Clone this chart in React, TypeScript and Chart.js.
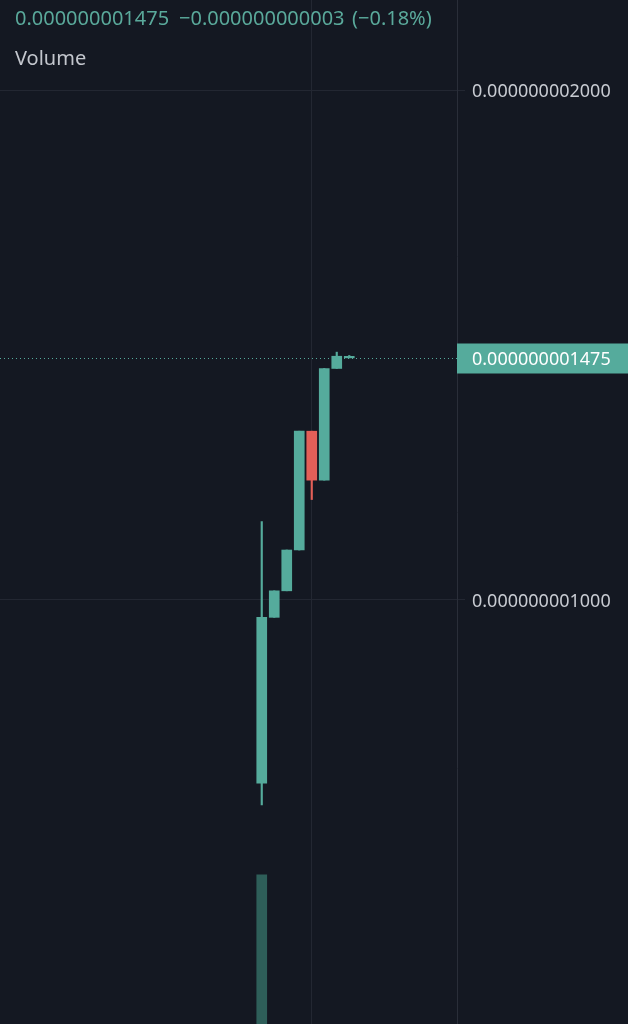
import React, { useEffect, useRef } from "react";
import { Chart, registerables } from "chart.js";

Chart.register(...registerables);

// candle index positions
const candleIndex = [0, 1, 2, 3, 4, 5, 6, 7];
const opens = [0.641e-9, 0.966e-9, 1.018e-9, 1.098e-9, 1.331e-9, 1.235e-9, 1.454e-9, 1.4748e-9];
const closes = [0.966e-9, 1.018e-9, 1.098e-9, 1.331e-9, 1.235e-9, 1.454e-9, 1.478e-9, 1.475e-9];
const highs = [1.154e-9, 1.018e-9, 1.098e-9, 1.331e-9, 1.331e-9, 1.454e-9, 1.486e-9, 1.4795e-9];
const lows = [0.598e-9, 0.966e-9, 1.018e-9, 1.098e-9, 1.197e-9, 1.235e-9, 1.454e-9, 1.4748e-9];
const volumes = [100, 0, 0, 0, 0, 0, 0, 0];
const priceTicks = [1e-9, 2e-9];
const lastPrice = 1.475e-9;
const headerPrice = "0.000000001475";
const headerChange = "\u22120.000000000003";
const headerPct = "(\u22120.18%)";

const BG = "#141822";
const UP = "#55ab9c";
const DOWN = "#e35f58";
const VOL = "#2e5e59";
const GRID = "#232732";
const FONT = "'Noto Sans', sans-serif";

const fmt = (v: number) => v.toFixed(12);

export default function App() {
  const ref = useRef<HTMLCanvasElement | null>(null);

  useEffect(() => {
    document.body.style.margin = "0";
    document.body.style.background = BG;
    const canvas = ref.current;
    if (!canvas) return;

    const colors = candleIndex.map((_, i) => (closes[i] >= opens[i] ? UP : DOWN));

    const pricePlugin = {
      id: "pricePlugin",
      afterDraw(chart: any) {
        const { ctx, chartArea, scales } = chart;
        const y = Math.round(scales.y.getPixelForValue(lastPrice)) + 0.5;
        ctx.save();
        ctx.strokeStyle = UP;
        ctx.lineWidth = 1;
        ctx.setLineDash([1, 3]);
        ctx.beginPath();
        ctx.moveTo(chartArea.left, y);
        ctx.lineTo(chartArea.right, y);
        ctx.stroke();
        ctx.setLineDash([]);
        ctx.fillStyle = UP;
        ctx.fillRect(chartArea.right, y - 15, chart.width - chartArea.right, 30);
        ctx.fillStyle = "#ffffff";
        ctx.font = `18px ${FONT}`;
        ctx.textBaseline = "middle";
        ctx.textAlign = "left";
        ctx.fillText(fmt(lastPrice), chartArea.right + 15, y + 1);
        ctx.restore();
      },
    };

    const chart = new Chart(canvas, {
      type: "bar",
      data: {
        datasets: [
          {
            label: "bodies",
            data: candleIndex.map((x, i) => ({ x, y: [opens[i], closes[i]] })) as any,
            backgroundColor: colors,
            barThickness: 10,
            minBarLength: 1.5,
            grouped: false,
            yAxisID: "y",
            order: 1,
          } as any,
          {
            label: "wicks",
            data: candleIndex.map((x, i) => ({ x, y: [lows[i], highs[i]] })) as any,
            backgroundColor: colors,
            barThickness: 1.5,
            grouped: false,
            yAxisID: "y",
            order: 2,
          } as any,
          {
            label: "volume",
            data: candleIndex.map((x, i) => ({ x, y: volumes[i] > 0 ? volumes[i] : null })) as any,
            backgroundColor: VOL,
            barThickness: 10,
            borderWidth: 0,
            grouped: false,
            yAxisID: "y2",
            order: 3,
          } as any,
        ],
      },
      options: {
        responsive: false,
        animation: false,
        maintainAspectRatio: false,
        layout: { padding: 0 },
        plugins: { legend: { display: false }, tooltip: { enabled: false } },
        scales: {
          x: {
            type: "linear",
            min: -20.94,
            max: 15.62,
            offset: false,
            grid: { color: GRID, drawTicks: false, offset: false },
            border: { display: false },
            ticks: { display: false },
            afterBuildTicks: (axis: any) => {
              axis.ticks = [{ value: 4 }];
            },
            afterFit: (axis: any) => {
              axis.height = 0;
              axis.paddingLeft = 0;
              axis.paddingRight = 0;
            },
          },
          y: {
            type: "linear",
            position: "right",
            min: 0.1686e-9,
            max: 2.1765e-9,
            grid: { color: GRID, tickLength: 8 },
            border: { display: true, color: "#2a2e39" },
            ticks: {
              color: "#c8cbd2",
              font: { family: "'Noto Sans'", size: 18 },
              padding: 7,
              labelOffset: 2,
              callback: (v: any) => fmt(Number(v)),
            },
            afterBuildTicks: (axis: any) => {
              axis.ticks = priceTicks.map((value) => ({ value }));
            },
            afterFit: (axis: any) => {
              axis.width = 171;
              axis.paddingTop = 0;
              axis.paddingBottom = 0;
            },
          },
          y2: {
            type: "linear",
            display: false,
            min: 0,
            max: 687,
          },
        },
      } as any,
      plugins: [pricePlugin],
    });
    return () => chart.destroy();
  }, []);

  const textBase: React.CSSProperties = {
    position: "absolute",
    fontFamily: FONT,
    fontSize: 20,
    lineHeight: "24px",
    whiteSpace: "nowrap",
  };

  return (
    <div style={{ position: "relative", width: 628, height: 1024, background: BG, overflow: "hidden" }}>
      <canvas ref={ref} width={628} height={1024} style={{ display: "block" }} />
      <div style={{ ...textBase, left: 15, top: 6, color: "#5aa99b" }}>{headerPrice}</div>
      <div style={{ ...textBase, left: 179, top: 6, color: "#5aa99b" }}>{headerChange}</div>
      <div style={{ ...textBase, left: 352, top: 6, color: "#5aa99b" }}>{headerPct}</div>
      <div style={{ ...textBase, left: 15, top: 46, color: "#c3c6cd" }}>Volume</div>
    </div>
  );
}
